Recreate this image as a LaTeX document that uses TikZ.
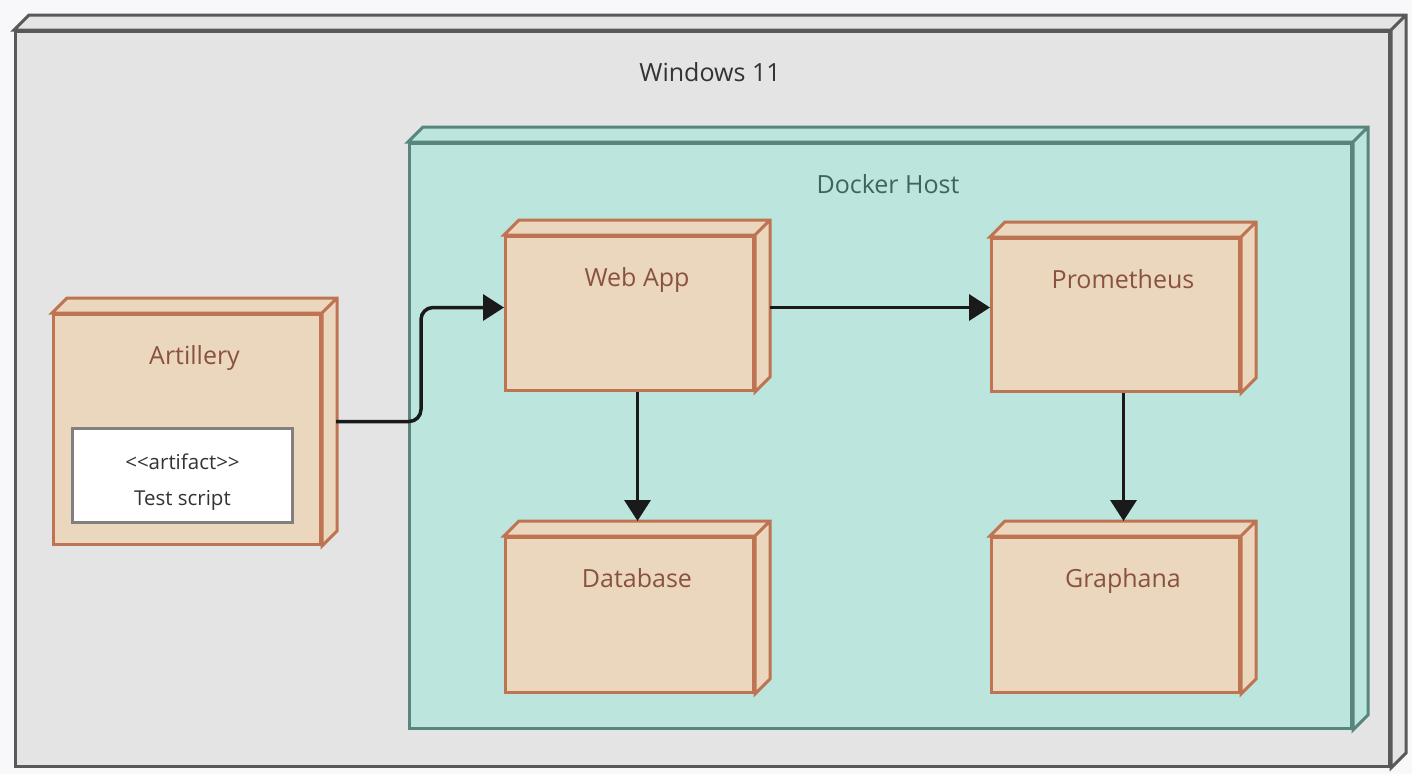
\documentclass[tikz,border=0pt]{standalone}
\usepackage{fontspec}
\setmainfont{Open Sans}
\usetikzlibrary{arrows.meta}

\definecolor{bgc}{HTML}{F8F8FA}
\definecolor{winfill}{HTML}{E4E4E4}
\definecolor{windraw}{HTML}{595959}
\definecolor{wintext}{HTML}{333333}
\definecolor{dockfill}{HTML}{BCE5DD}
\definecolor{dockdraw}{HTML}{58867E}
\definecolor{docktext}{HTML}{3E645D}
\definecolor{devfill}{HTML}{EAD7BE}
\definecolor{devdraw}{HTML}{BE7452}
\definecolor{devtext}{HTML}{8A523E}
\definecolor{flowc}{HTML}{1A1A1A}

\begin{document}
\begin{tikzpicture}[x=1pt,y=-1pt]
    \tikzstyle{box}=[rectangle, anchor=north west, line width=3pt, inner sep=0pt]
    \tikzstyle{winbox}=[draw=windraw, fill=winfill]
    \tikzstyle{dockbox}=[draw=dockdraw, fill=dockfill]
    \tikzstyle{devbox}=[draw=devdraw, fill=devfill]
    \tikzstyle{lbl}=[anchor=center, xshift=7.5pt, yshift=-44.5pt, text height=18pt, text depth=5pt,
        font=\fontsize{25}{30}\selectfont]
    \tikzstyle{flow}=[draw=flowc, line width=3.5pt, -{Triangle[length=21pt,width=26pt]}]

    \fill[bgc] (0,0) rectangle (1412,774);

    \node[box, winbox, minimum width=1374pt, minimum height=735pt,
        label={[lbl, text=wintext]north:Windows 11}] (win) at (14,30) {};
    \node[box, dockbox, minimum width=942pt, minimum height=585pt,
        label={[lbl, text=docktext]north:Docker Host}] (dock) at (408,142) {};

    \node[box, devbox, minimum width=267pt, minimum height=230pt,
        label={[lbl, text=devtext]north:Artillery}] (art) at (52,313) {};
    \node[box, draw=gray, fill=white, minimum width=220pt, minimum height=94pt,
        label={[anchor=center, yshift=-7pt, align=center, text=wintext,
        font=\fontsize{20.5}{36}\selectfont]center:{<}{<}artifact{>}{>}\\Test script}] (tscript) at (71,427) {};

    \node[box, devbox, minimum width=248pt, minimum height=154pt,
        label={[lbl, text=devtext]north:Web App}] (web) at (504,235) {};
    \node[box, devbox, minimum width=248pt, minimum height=153pt,
        label={[lbl, text=devtext]north:Prometheus}] (prom) at (990,237) {};
    \node[box, devbox, minimum width=248pt, minimum height=155pt,
        label={[lbl, text=devtext]north:Database}] (db) at (504,536) {};
    \node[box, devbox, minimum width=248pt, minimum height=155pt,
        label={[lbl, text=devtext]north:Graphana}] (graf) at (990,536) {};

    % top and side faces
    \foreach \n/\s in {win/winbox, dock/dockbox, art/devbox, web/devbox, prom/devbox, db/devbox, graf/devbox}
        \draw[\s, line width=3pt] (\n.north west) -- ++(15,-15)
            -| ([xshift=15pt,yshift=15pt]\n.south east) -- (\n.south east)
            -- (\n.north east) -- cycle (\n.north east) -- ++(15,-15);

    \draw[flow, rounded corners=12pt] ([xshift=14pt,yshift=8pt]art.east) -- ++(85,0)
        |- ([yshift=6pt]web.west);
    \draw[flow] ([xshift=15pt,yshift=6pt]web.east) -- ([yshift=7.5pt]prom.west);
    \draw[flow] ([xshift=8pt]web.south) -- ([xshift=8pt,yshift=15pt]db.north);
    \draw[flow] ([xshift=8pt]prom.south) -- ([xshift=8pt,yshift=15pt]graf.north);
\end{tikzpicture}
\end{document}
